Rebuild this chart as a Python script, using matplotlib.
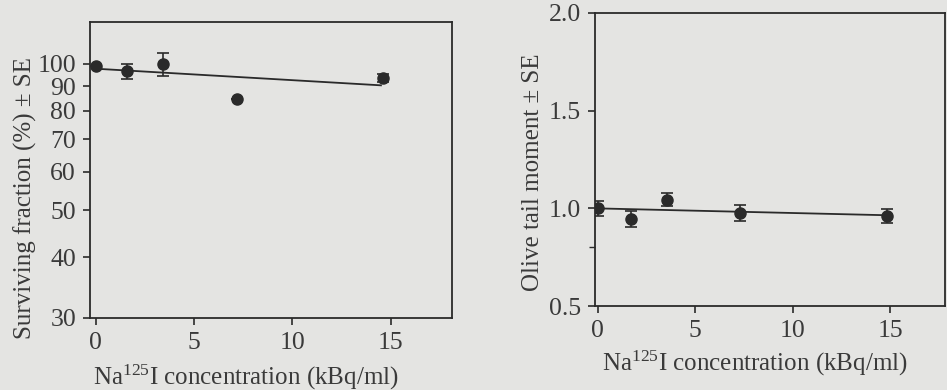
import matplotlib
matplotlib.use("Agg")
import matplotlib.pyplot as plt
from matplotlib.ticker import FixedLocator, NullFormatter, NullLocator

plt.rcParams['font.family'] = ['Liberation Serif', 'DejaVu Serif']
plt.rcParams['mathtext.fontset'] = 'custom'
plt.rcParams['mathtext.rm'] = 'Liberation Serif'

# Left panel: surviving fraction (%)
surv_x = [0, 1.6, 3.4, 7.2, 14.6]
surv_y = [99.0, 96.5, 100.0, 84.8, 93.7]
surv_err = [0.0, 3.5, 5.5, 0.0, 1.8]
surv_fit_x = [0, 14.5]
surv_fit_y = [97.7, 90.3]
surv_yticks = [30, 40, 50, 60, 70, 80, 90, 100]

# Right panel: olive tail moment
otm_x = [0, 1.7, 3.55, 7.3, 14.8]
otm_y = [1.0, 0.945, 1.045, 0.978, 0.96]
otm_err = [0.04, 0.04, 0.035, 0.04, 0.035]
otm_fit_x = [0, 14.8]
otm_fit_y = [1.0, 0.965]
otm_yticks = [0.5, 1.0, 1.5, 2.0]
otm_yticklabels = ['0.5', '1.0', '1.5', '2.0']

xticks = [0, 5, 10, 15]
xlabel = 'Na$\\mathregular{^{125}}$I concentration (kBq/ml)'

bg = '#e4e4e2'
ink = '#2a2a2a'
txt = '#3a3a3a'
tsize = 18.5
lsize = 18

fig = plt.figure(figsize=(9.47, 3.9), dpi=100, facecolor=bg)

ax1 = fig.add_axes([0.095, 0.185, 0.382, 0.759])
ax2 = fig.add_axes([0.628, 0.215, 0.370, 0.752])

for ax in (ax1, ax2):
    ax.set_facecolor(bg)
    for s in ax.spines.values():
        s.set_color(ink)
        s.set_linewidth(1.3)
    ax.tick_params(direction='out', length=5, width=1.2, colors=ink,
                   labelcolor=txt, labelsize=tsize, pad=5)

# Left
ax1.set_yscale('log')
ax1.plot(surv_fit_x, surv_fit_y, color=ink, lw=1.3)
ax1.errorbar(surv_x, surv_y, yerr=surv_err, fmt='o', color=ink, ms=8,
             elinewidth=1.2, capsize=4, capthick=1.2)
ax1.set_xlim(-0.3, 18.1)
ax1.set_ylim(30, 122)
ax1.yaxis.set_major_locator(FixedLocator(surv_yticks))
ax1.yaxis.set_minor_locator(NullLocator())
ax1.yaxis.set_minor_formatter(NullFormatter())
ax1.set_yticklabels([str(v) for v in surv_yticks])
ax1.set_xticks(xticks)
ax1.set_xticklabels([str(v) for v in xticks])
ax1.set_ylabel('Surviving fraction (%) \u00b1 SE', fontsize=lsize, color=txt, va='center')
ax1.set_xlabel(xlabel, fontsize=lsize, color=txt, va='center')
ax1.yaxis.set_label_coords(-0.18, 0.405)
ax1.xaxis.set_label_coords(0.431, -0.20)

# Right
ax2.plot(otm_fit_x, otm_fit_y, color=ink, lw=1.3)
ax2.errorbar(otm_x, otm_y, yerr=otm_err, fmt='o', color=ink, ms=8,
             elinewidth=1.2, capsize=4, capthick=1.2)
ax2.set_xlim(-0.15, 17.8)
ax2.set_ylim(0.5, 2.0)
ax2.set_yticks(otm_yticks)
ax2.set_yticklabels(otm_yticklabels)
ax2.yaxis.set_minor_locator(FixedLocator([0.8]))
ax2.tick_params(axis='y', which='minor', direction='out', length=4, width=1.0, colors=ink)
ax2.set_xticks(xticks)
ax2.set_xticklabels([str(v) for v in xticks])
ax2.set_ylabel('Olive tail moment \u00b1 SE', fontsize=lsize, color=txt, va='center')
ax2.set_xlabel(xlabel, fontsize=lsize, color=txt, va='center')
ax2.yaxis.set_label_coords(-0.177, 0.455)
ax2.xaxis.set_label_coords(0.457, -0.195)

fig.savefig('out.png', dpi=100, facecolor=bg)
